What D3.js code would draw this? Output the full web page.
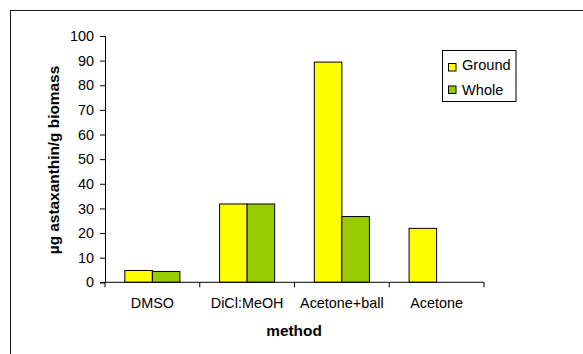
<!DOCTYPE html>
<html>
<head>
<meta charset="utf-8">
<script src="https://cdn.jsdelivr.net/npm/d3@7"></script>
<style>
  html, body { margin: 0; padding: 0; background: #fff; }
  svg { display: block; }
  text { font-family: "Liberation Sans", Arial, sans-serif; fill: #000; }
</style>
</head>
<body>
<svg id="chart" width="583" height="354"></svg>
<script>
// Extraction methods and astaxanthin yield per series
const methods = ["DMSO", "DiCl:MeOH", "Acetone+ball", "Acetone"];
const seriesNames = ["Ground", "Whole"];
const groundValues = [4.8, 31.8, 89.4, 21.9];
const wholeValues = [4.4, 31.8, 26.7, null];
const yTicks = [0, 10, 20, 30, 40, 50, 60, 70, 80, 90, 100];
const colors = ["#FFFF00", "#99CC00"];

const svg = d3.select("#chart");

// Outer chart frame (runs off the right and bottom edges)
svg.append("rect")
  .attr("x", 10.5).attr("y", 10.5)
  .attr("width", 600).attr("height", 400)
  .attr("fill", "none").attr("stroke", "#1a1a1a").attr("stroke-width", 1);

const plot = { left: 105, right: 484, top: 36, bottom: 282.3 };

const x = d3.scaleBand().domain(methods).range([plot.left, plot.right]).paddingInner(0).paddingOuter(0);
const xs = d3.scaleBand().domain(seriesNames).range([0, x.bandwidth()]).paddingInner(0).paddingOuter(0.72);
const y = d3.scaleLinear().domain([0, 100]).range([plot.bottom, plot.top]);

const rows = methods.map((m, i) => ({ method: m, values: [groundValues[i], wholeValues[i]] }));

// Bars
const g = svg.append("g");
rows.forEach(r => {
  r.values.forEach((v, j) => {
    if (v == null) return;
    g.append("rect")
      .attr("x", x(r.method) + xs(seriesNames[j]))
      .attr("y", y(v))
      .attr("width", xs.bandwidth())
      .attr("height", y(0) - y(v))
      .attr("fill", colors[j])
      .attr("stroke", "#000")
      .attr("stroke-width", 1);
  });
});

// Y axis
const yAxis = svg.append("g")
  .attr("transform", `translate(${plot.left},0)`)
  .call(d3.axisLeft(y).tickValues(yTicks).tickSize(5).tickPadding(6));
yAxis.select(".domain").attr("stroke", "#000");
yAxis.selectAll(".tick line").attr("stroke", "#000");
yAxis.selectAll("text").style("font-size", "14.4px").attr("fill", "#000");

// X axis with ticks between categories
const xAxis = svg.append("g").attr("transform", `translate(0,${plot.bottom})`);
xAxis.append("line")
  .attr("x1", plot.left).attr("x2", plot.right)
  .attr("stroke", "#000");
const boundaries = methods.map(m => x(m)).concat([plot.right]);
xAxis.selectAll("line.tk").data(boundaries).enter().append("line")
  .attr("class", "tk")
  .attr("x1", d => d).attr("x2", d => d)
  .attr("y1", 0).attr("y2", 5)
  .attr("stroke", "#000");
xAxis.selectAll("text").data(methods).enter().append("text")
  .attr("x", d => x(d) + x.bandwidth() / 2)
  .attr("y", 25.5)
  .attr("text-anchor", "middle")
  .style("font-size", "14.4px")
  .text(d => d);

// Axis titles
svg.append("text")
  .attr("transform", "translate(59,160) rotate(-90)")
  .attr("text-anchor", "middle")
  .style("font-size", "15.4px").style("font-weight", "bold")
  .text("µg astaxanthin/g biomass");
svg.append("text")
  .attr("x", 294).attr("y", 336)
  .attr("text-anchor", "middle")
  .style("font-size", "15.4px").style("font-weight", "bold")
  .text("method");

// Legend
const lg = svg.append("g");
lg.append("rect")
  .attr("x", 442.5).attr("y", 50.5).attr("width", 73.5).attr("height", 51)
  .attr("fill", "#fff").attr("stroke", "#000");
seriesNames.forEach((s, i) => {
  lg.append("rect")
    .attr("x", 448.5).attr("y", 63.5 + i * 22.5).attr("width", 7.5).attr("height", 7.5)
    .attr("fill", colors[i]).attr("stroke", "#000");
  lg.append("text")
    .attr("x", 462).attr("y", 69.5 + i * 25)
    .style("font-size", "14.6px")
    .text(s);
});
</script>
</body>
</html>
